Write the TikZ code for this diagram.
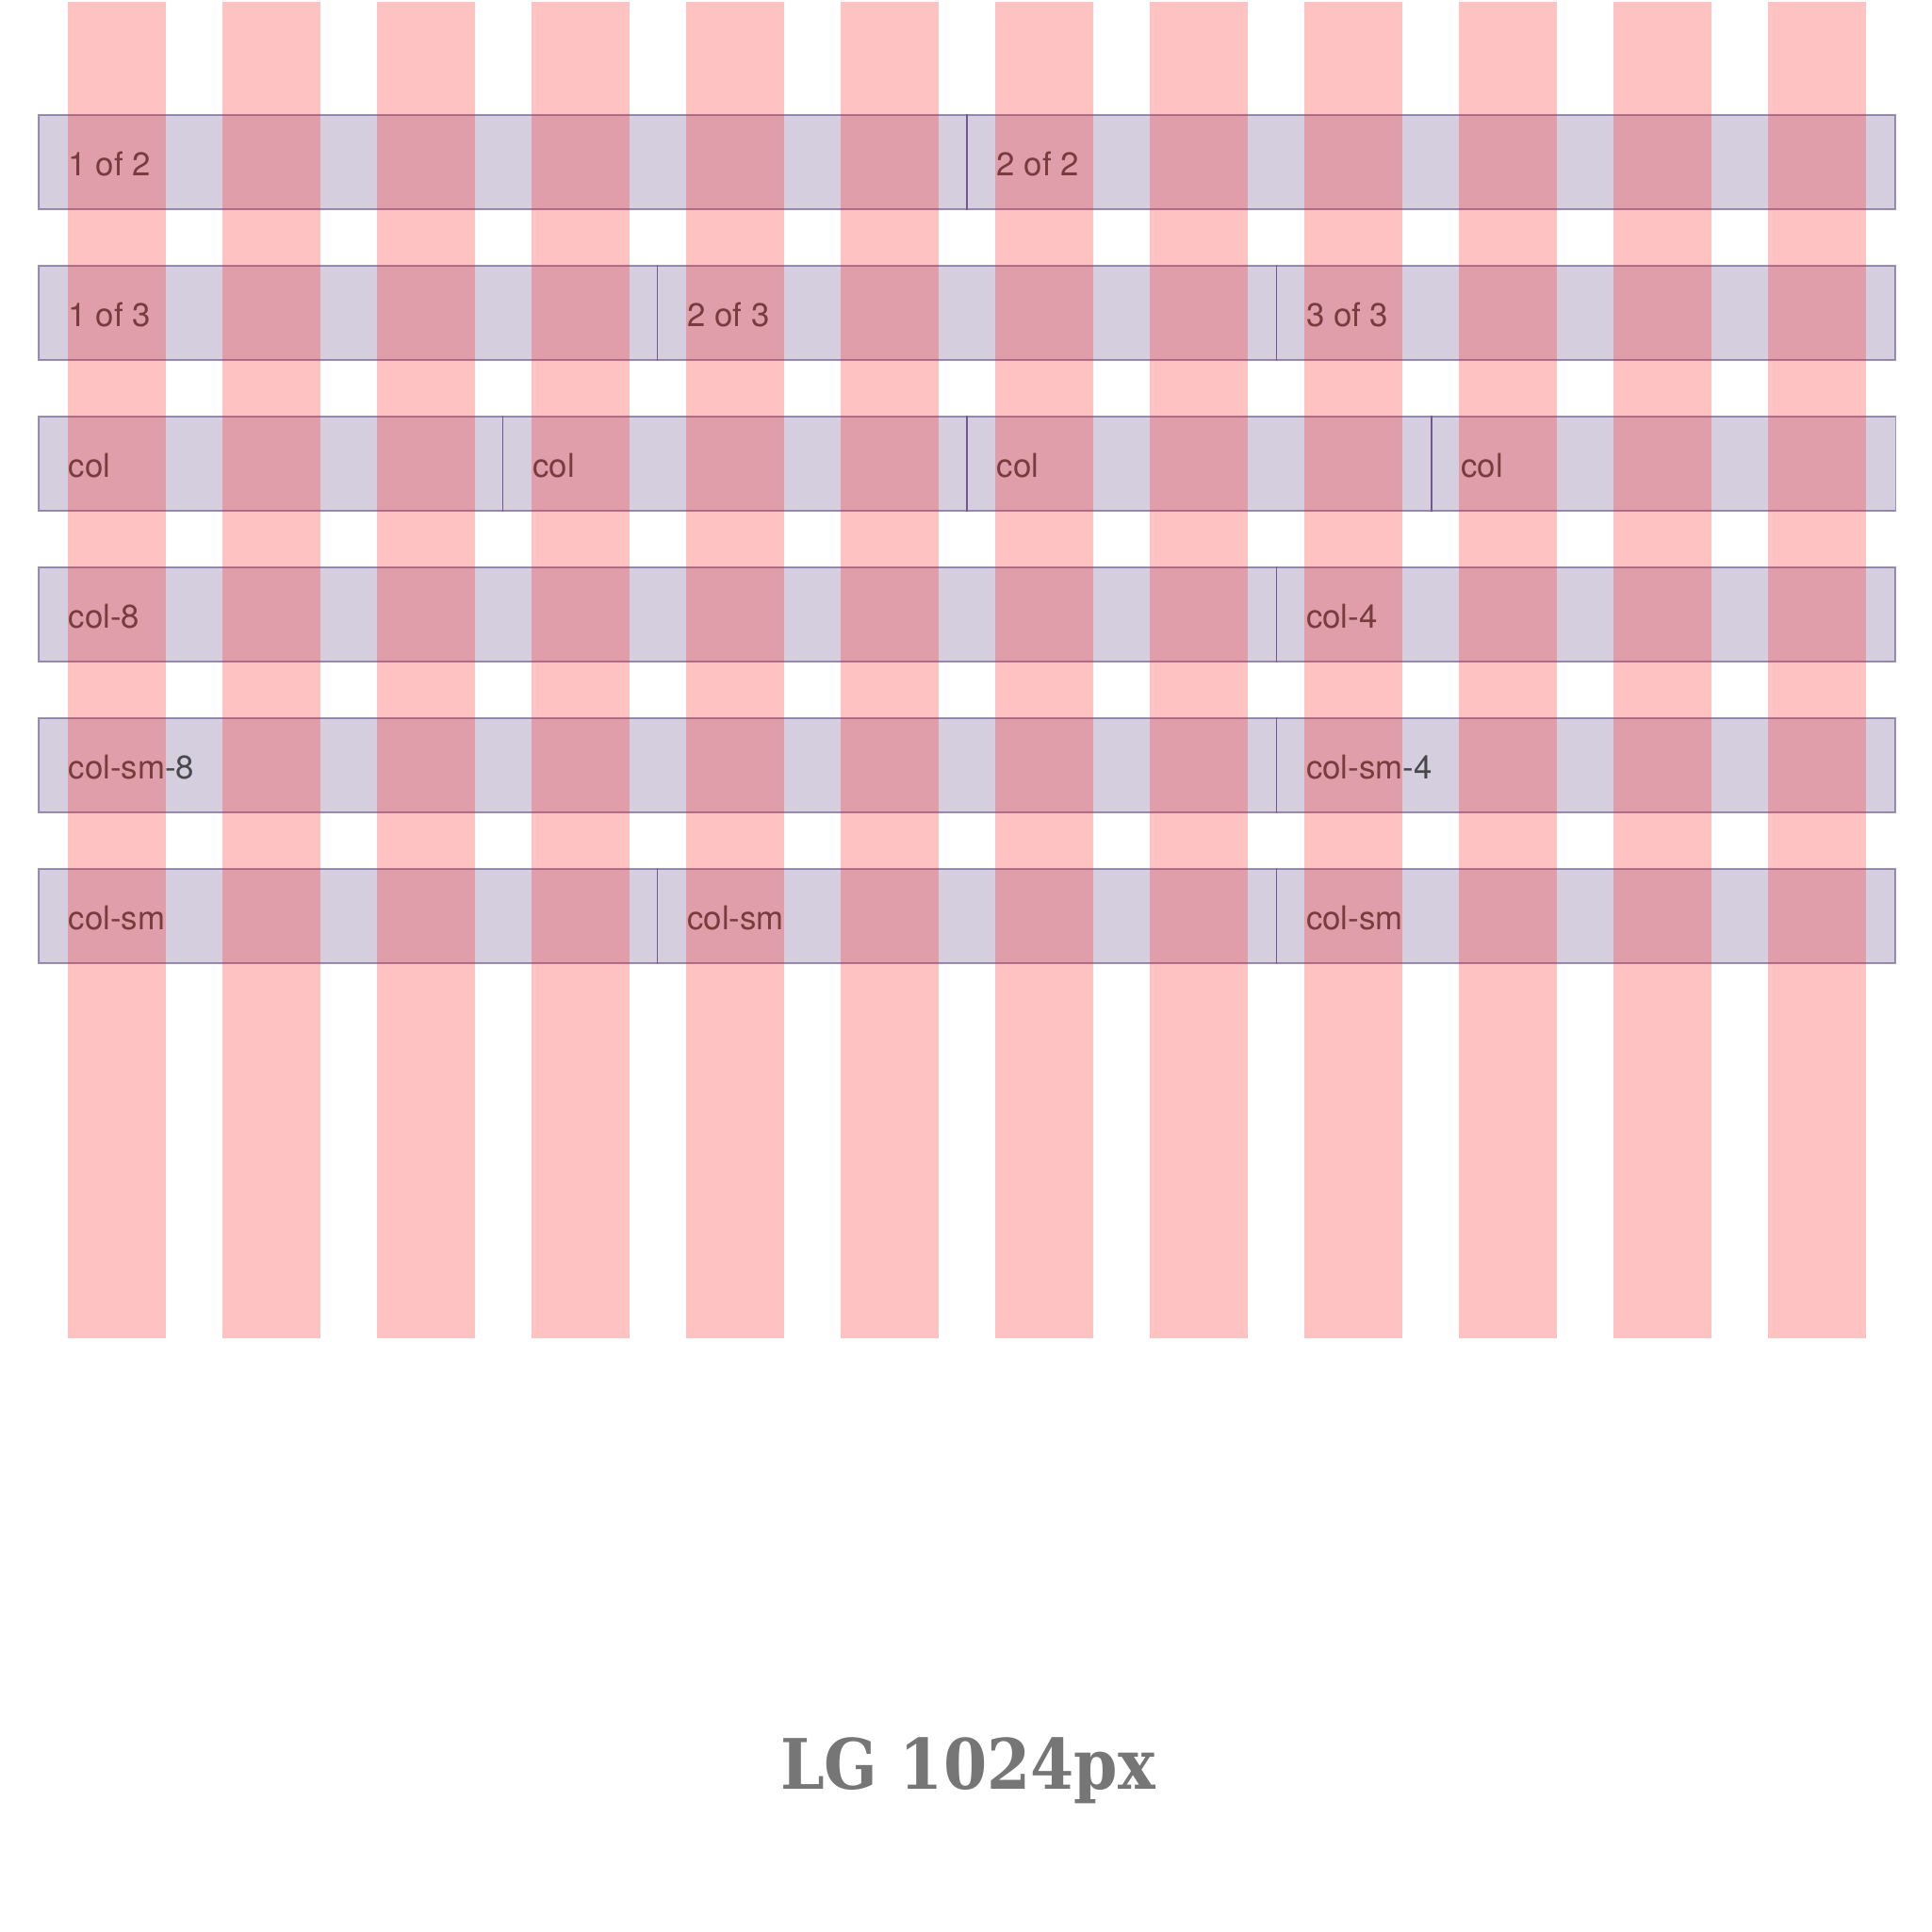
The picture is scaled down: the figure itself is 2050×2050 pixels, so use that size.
\documentclass[tikz,border=0pt]{standalone}
\usepackage{fontspec}
\setmainfont{TeX Gyre Heros}
\newfontfamily\titlefont{DejaVu Serif Condensed}
\usetikzlibrary{positioning}
\definecolor{gridpurple}{RGB}{86,61,124}
\definecolor{gridred}{RGB}{255,26,26}
\definecolor{labeltext}{RGB}{72,72,76}
\definecolor{titlegray}{RGB}{118,118,118}

\begin{document}
\begin{tikzpicture}[
    x=0.01cm, y=-0.01cm,
    cell/.style={draw=gridpurple, draw opacity=0.55, fill=gridpurple, fill opacity=0.25,
                 line width=0.45pt, minimum height=1cm, inner sep=0pt, outer sep=0pt},
    half/.style={cell, minimum width=9.845cm},
    third/.style={cell, minimum width=6.563cm},
    quarter/.style={cell, minimum width=4.923cm},
    lbl/.style={anchor=base west, inner sep=0pt, text=labeltext, font=\fontsize{9.9}{12}\selectfont},
    gutter/.style={fill=gridred, fill opacity=0.262}
  ]
    \useasboundingbox[fill=white] (0,0) rectangle (2050,2050);

    % rows of cells
    \node[half, anchor=north west] (half1) at (41,122) {};
    \node[half, right=0pt of half1] (half2) {};

    \node[third, anchor=north west] (third1) at (41,282) {};
    \node[third, right=0pt of third1] (third2) {};
    \node[third, right=0pt of third2] (third3) {};

    \node[quarter, anchor=north west] (quarter1) at (41,442) {};
    \node[quarter, right=0pt of quarter1] (quarter2) {};
    \node[quarter, right=0pt of quarter2] (quarter3) {};
    \node[quarter, right=0pt of quarter3] (quarter4) {};

    \node[cell, minimum width=13.126cm, anchor=north west] (wide8) at (41,602) {};
    \node[third, right=0pt of wide8] (narrow4) {};

    \node[cell, minimum width=13.126cm, anchor=north west] (sm8) at (41,762) {};
    \node[third, right=0pt of sm8] (sm4) {};

    \node[third, anchor=north west] (sm1) at (41,922) {};
    \node[third, right=0pt of sm1] (sm2) {};
    \node[third, right=0pt of sm2] (sm3) {};

    % labels
    \foreach \cellname/\txt in {half1/1 of 2, half2/2 of 2,
        third1/1 of 3, third2/2 of 3, third3/3 of 3,
        quarter1/col, quarter2/col, quarter3/col, quarter4/col,
        wide8/col-8, narrow4/col-4, sm8/col-sm-8, sm4/col-sm-4,
        sm1/col-sm, sm2/col-sm, sm3/col-sm}
      \node[lbl] (lbl-\cellname) at ([shift={(31,64)}]\cellname.north west) {\txt};

    % grid columns on top
    \foreach \i in {0,...,11}
      \fill[gutter] (72+\i*164,2) rectangle (176+\i*164,1420);

    \node[anchor=base, inner sep=0pt, text=titlegray,
          font=\titlefont\bfseries\fontsize{21}{24}\selectfont] (title) at (1027,1898) {LG 1024px};
\end{tikzpicture}
\end{document}
